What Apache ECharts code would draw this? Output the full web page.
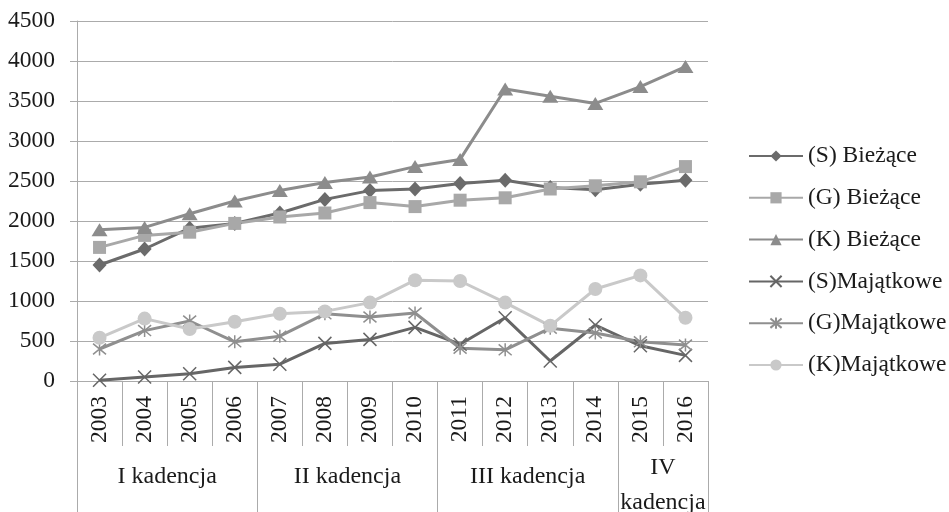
<!DOCTYPE html>
<html>
<head>
<meta charset="utf-8">
<script src="https://cdn.jsdelivr.net/npm/echarts@6/dist/echarts.min.js"></script>
<style>
  html, body { margin: 0; padding: 0; background: #fff; }
  #chart { width: 949px; height: 512px; }
</style>
</head>
<body>
<div id="chart"></div>
<script>
// dane
const years = ['2003', '2004', '2005', '2006', '2007', '2008', '2009', '2010', '2011', '2012', '2013', '2014', '2015', '2016'];
const groups = ['I kadencja', 'II kadencja', 'III kadencja', 'IV\nkadencja'];
const groupSizes = [4, 4, 4, 2];
const yTicks = [0, 4500, 500];

const sBiezace = [1450, 1650, 1910, 1970, 2100, 2270, 2380, 2400, 2470, 2510, 2420, 2390, 2460, 2510];
const gBiezace = [1670, 1820, 1860, 1970, 2050, 2100, 2230, 2180, 2260, 2290, 2400, 2440, 2490, 2680];
const kBiezace = [1890, 1920, 2090, 2250, 2380, 2480, 2550, 2680, 2770, 3650, 3560, 3470, 3680, 3930];
const sMajatkowe = [10, 50, 90, 170, 210, 470, 520, 670, 460, 790, 250, 700, 440, 320];
const gMajatkowe = [400, 630, 750, 490, 560, 840, 800, 850, 410, 390, 660, 600, 490, 450];
const kMajatkowe = [540, 780, 650, 740, 840, 870, 980, 1260, 1250, 980, 690, 1150, 1320, 790];

// granice i środki grup (kadencji)
const groupEdges = [0];
const groupCenters = [];
groupSizes.forEach((n) => {
  const start = groupEdges[groupEdges.length - 1];
  groupCenters.push(start + n / 2);
  groupEdges.push(start + n);
});

const FONT = '"Liberation Serif", "Times New Roman", serif';
const FS = 24;
const axisGray = '#ababab';
const textColor = '#1a1a1a';

// symbole X i gwiazdka (tylko obrys)
const crossPath = 'path://M0,0L100,100M100,0L0,100';
const starPath = 'path://M0,0L100,100M100,0L0,100M50,-10L50,110';

const chart = echarts.init(document.getElementById('chart'));

const makeSeries = (name, data, color, symbol, size, stroke) => ({
  name: name,
  type: 'line',
  data: data,
  symbol: symbol,
  symbolSize: size,
  showAllSymbol: true,
  lineStyle: { color: color, width: 3 },
  itemStyle: stroke
    ? { color: 'rgba(0,0,0,0)', borderColor: color, borderWidth: 1.5 }
    : { color: color, borderWidth: 0 },
  emphasis: { disabled: true },
  z: 3,
});

const option = {
  animation: false,
  backgroundColor: '#fff',
  textStyle: { fontFamily: FONT },
  grid: { left: 77, right: 241, top: 21, bottom: 131, outerBoundsMode: 'none', containLabel: false },
  legend: {
    orient: 'vertical',
    left: 748,
    top: 144,
    padding: 0,
    itemWidth: 54,
    itemHeight: 14,
    itemGap: 17.8,
    textStyle: { fontFamily: FONT, fontSize: 23.5, color: textColor, lineHeight: 22 },
  },
  xAxis: [
    {
      type: 'category',
      data: years,
      boundaryGap: true,
      axisLine: { show: true, lineStyle: { color: axisGray, width: 1 } },
      axisTick: { show: true, length: 65, lineStyle: { color: axisGray, width: 1 } },
      axisLabel: {
        rotate: 90,
        margin: 15,
        fontFamily: FONT,
        fontSize: 23.5,
        color: textColor,
        interval: 0,
      },
      splitLine: { show: false },
    },
    {
      type: 'value',
      position: 'bottom',
      min: 0,
      max: years.length,
      axisLine: { show: false },
      axisTick: {
        show: true,
        length: 131,
        customValues: groupEdges,
        lineStyle: { color: axisGray, width: 1 },
      },
      axisLabel: {
        customValues: groupCenters,
        formatter: (v) => {
          const i = groupCenters.indexOf(v);
          const t = groups[i] || '';
          return t.indexOf('\n') >= 0 ? '{two|' + t + '}' : t;
        },
        verticalAlign: 'middle',
        margin: 96,
        fontFamily: FONT,
        fontSize: FS,
        lineHeight: 35,
        color: textColor,
        rich: {
          two: {
            fontFamily: FONT,
            fontSize: FS,
            lineHeight: 35,
            color: textColor,
            padding: [16, 0, 0, 0],
          },
        },
      },
      splitLine: { show: false },
    },
  ],
  yAxis: {
    type: 'value',
    min: yTicks[0],
    max: yTicks[1],
    interval: yTicks[2],
    axisLine: { show: true, lineStyle: { color: axisGray, width: 1 } },
    axisTick: { show: true, length: 7, lineStyle: { color: axisGray, width: 1 } },
    axisLabel: {
      margin: 22,
      fontFamily: FONT,
      fontSize: 23.5,
      color: textColor,
      formatter: (v) => String(v),
    },
    splitLine: { show: true, lineStyle: { color: axisGray, width: 1 } },
  },
  series: [
    makeSeries('(S) Bieżące', sBiezace, '#6b6b6b', 'diamond', [14, 15], false),
    makeSeries('(G) Bieżące', gBiezace, '#a8a8a8', 'rect', 13, false),
    makeSeries('(K) Bieżące', kBiezace, '#8c8c8c', 'triangle', [16, 13], false),
    makeSeries('(S)Majątkowe', sMajatkowe, '#666666', crossPath, 13, true),
    makeSeries('(G)Majątkowe', gMajatkowe, '#8f8f8f', starPath, 13, true),
    makeSeries('(K)Majątkowe', kMajatkowe, '#c9c9c9', 'circle', 14, false),
  ],
};

chart.setOption(option);

window.addEventListener('resize', function () {
  chart.resize();
});
</script>
</body>
</html>
